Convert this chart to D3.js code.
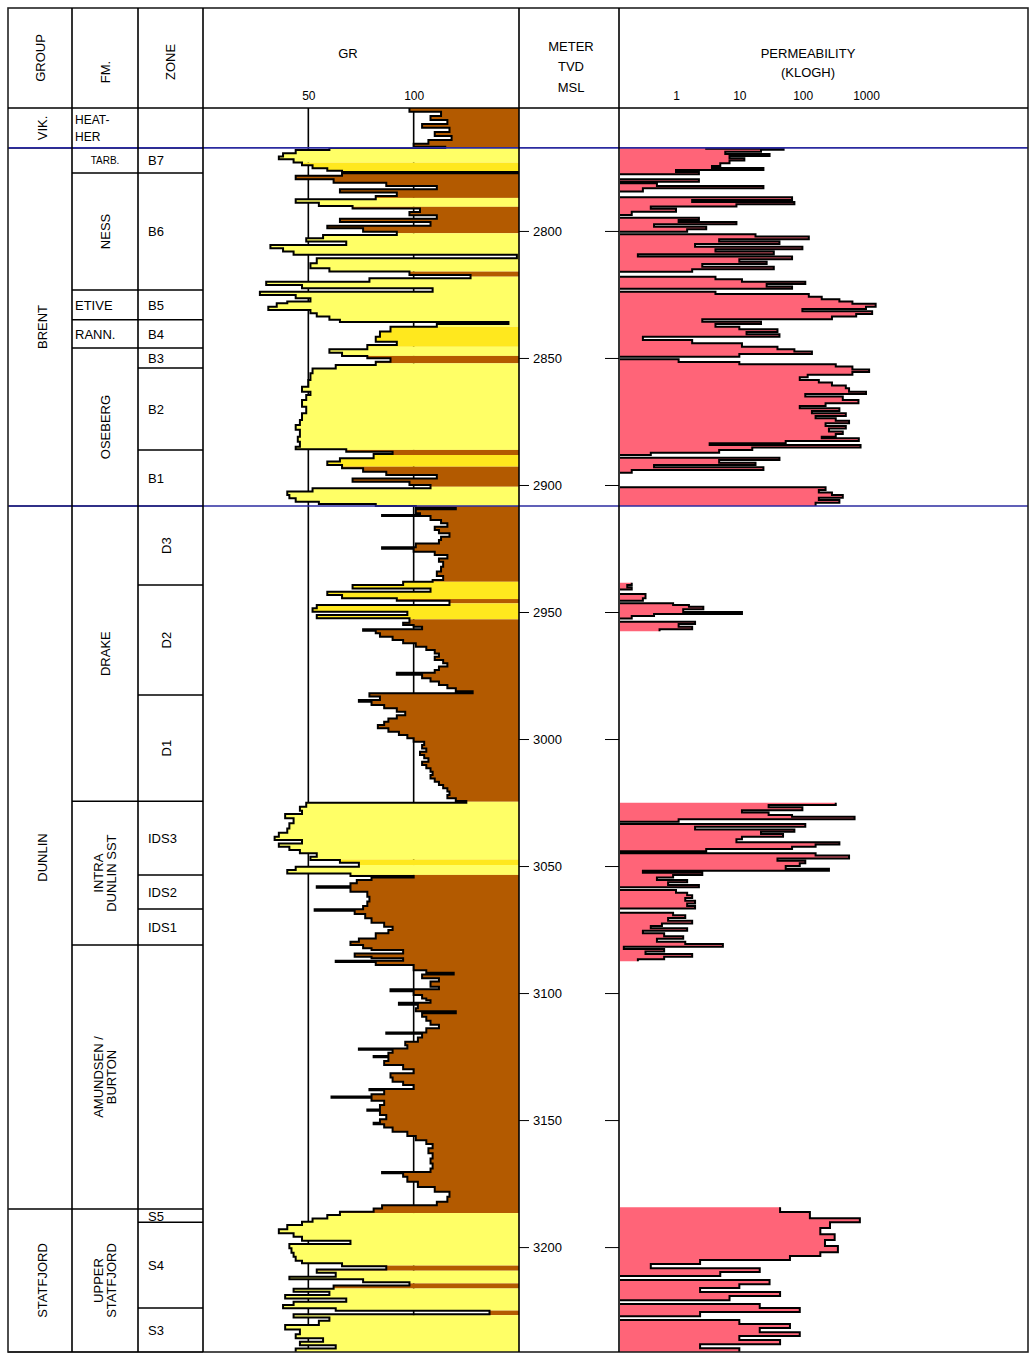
<!DOCTYPE html>
<html><head><meta charset="utf-8">
<script src="https://cdn.jsdelivr.net/npm/d3@7"></script>
<style>
body{margin:0;background:#fff;}
text{font-family:"Liberation Sans",Arial,sans-serif;font-size:12px;fill:#000;}
</style></head><body>
<svg id="chart" width="1035" height="1358"></svg>
<script>
// ---------------- DATA ----------------
const depthTicks = [2800, 2850, 2900, 2950, 3000, 3050, 3100, 3150, 3200];
const grTicks = [50, 100];
const permTicks = [1, 10, 100, 1000];

const groupNames = ["VIK.", "BRENT", "DUNLIN", "STATFJORD"];
const groupTops  = [2751.6, 2767.3, 2908.3, 3185.0];
const groupBases = [2767.3, 2908.3, 3185.0, 3241.3];

const fmNames = ["HEAT-|HER", "TARB.", "NESS", "ETIVE", "RANN.", "OSEBERG", "DRAKE", "INTRA|DUNLIN SST", "AMUNDSEN /|BURTON", "UPPER|STATFJORD"];
const fmTops  = [2751.6, 2767.3, 2777.2, 2823.2, 2835.0, 2846.1, 2908.3, 3024.5, 3081.1, 3185.0];
const fmBases = [2767.3, 2777.2, 2823.2, 2835.0, 2846.1, 2908.3, 3024.5, 3081.1, 3185.0, 3241.3];

const zoneNames = ["", "B7", "B6", "B5", "B4", "B3", "B2", "B1", "D3", "D2", "D1", "IDS3", "IDS2", "IDS1", "", "S5", "S4", "S3"];
const zoneTops  = [2751.6, 2767.3, 2777.2, 2823.2, 2835.0, 2846.1, 2853.9, 2886.2, 2908.3, 2939.4, 2982.7, 3024.5, 3053.5, 3066.9, 3081.1, 3185.0, 3190.2, 3224.0];
const zoneBases = [2767.3, 2777.2, 2823.2, 2835.0, 2846.1, 2853.9, 2886.2, 2908.3, 2939.4, 2982.7, 3024.5, 3053.5, 3066.9, 3081.1, 3185.0, 3190.2, 3224.0, 3241.3];

const litTops  = [2751.6, 2767.3, 2773.1, 2776.5, 2787.0, 2790.5, 2800.9, 2816.0, 2818.0, 2837.7, 2845.6, 2849.2, 2852.1, 2886.2, 2888.2, 2892.8, 2900.7, 2908.3, 2938.1, 2944.9, 2946.6, 2952.9, 3024.7, 3047.4, 3049.6, 3053.5, 3186.6, 3207.3, 3209.3, 3214.3, 3216.3, 3225.0, 3226.8];
const litBases = [2767.3, 2773.1, 2776.5, 2787.0, 2790.5, 2800.9, 2816.0, 2818.0, 2837.7, 2845.6, 2849.2, 2852.1, 2886.2, 2888.2, 2892.8, 2900.7, 2908.3, 2938.1, 2944.9, 2946.6, 2952.9, 3024.7, 3047.4, 3049.6, 3053.5, 3186.6, 3207.3, 3209.3, 3214.3, 3216.3, 3225.0, 3226.8, 3241.3];
const litTypes = ["shale","sand","shalysand","shale","sand","shale","sand","shale","sand","shalysand","sand","shale","sand","shale","shalysand","shale","sand","shale","shalysand","shale","shalysand","shale","sand","shalysand","sand","shale","sand","shale","sand","shale","sand","shale","sand"];

// GR samples [depth m TVD MSL, GR API]
const grSamples = [
[2751.6,98],[2753.1,113],[2754.7,108],[2756.3,116],[2757.9,104],[2759.4,117],[2761.0,110],[2762.6,118],[2764.2,107],[2765.7,100],[2766.9,115],
[2767.3,60],[2768.1,44],[2769.4,38],[2770.7,36],[2771.8,43],[2773.1,47],[2774.1,52],[2775.3,59],[2776.3,66],[2776.8,150],[2777.3,66],[2778.3,44],[2779.6,62],[2781.0,87],[2782.3,111],[2783.6,65],[2784.9,92],[2786.2,82],[2787.5,44],[2788.9,55],[2790.2,71],[2791.2,103],[2792.5,98],[2793.8,111],[2795.2,65],[2796.5,108],[2798.0,59],[2798.9,76],[2800.3,92],[2801.6,57],[2802.9,49],[2804.2,68],[2805.5,32],[2806.8,38],[2808.1,43],[2809.4,149],[2810.7,54],[2812.7,51],[2814.7,60],[2816.0,98],[2817.3,127],[2818.6,79],[2820.0,30],[2821.3,47],[2822.6,109],[2823.9,27],[2825.2,44],[2826.5,51],[2827.8,40],[2828.5,35],[2829.8,31],[2831.1,51],[2832.4,54],[2833.7,60],[2835.0,65],[2835.8,145],[2836.6,111],[2837.7,89],[2839.6,84],[2841.6,82],[2843.6,92],[2844.9,78],[2846.6,60],[2847.9,66],[2849.2,78],[2850.1,89],[2851.5,82],[2852.8,63],[2854.1,52],[2856.0,51],[2858.7,50],[2861.3,47],[2863.3,51],[2864.6,49],[2866.5,47],[2869.2,49],[2871.8,47],[2874.4,46],[2876.4,44],[2878.3,46],[2881.0,45],[2883.0,46],[2884.9,44],[2885.9,68],[2886.9,90],[2887.8,81],[2889.5,65],[2890.8,59],[2892.1,66],[2893.4,76],[2894.8,87],[2896.1,111],[2897.4,71],[2898.7,98],[2900.0,108],[2901.3,52],[2902.6,40],[2903.9,41],[2905.2,44],[2906.6,55],[2907.5,82],
[2908.3,101],[2909.1,120],[2909.6,101],[2911.1,103],[2911.8,85],[2912.2,108],[2913.8,113],[2915.1,116],[2916.4,110],[2917.7,112],[2919.0,117],[2920.4,113],[2921.7,112],[2923.0,101],[2924.5,85],[2925.1,100],[2926.3,110],[2927.6,116],[2928.9,112],[2930.2,114],[2932.2,113],[2934.1,111],[2935.8,114],[2937.4,109],
[2938.1,95],[2939.4,71],[2940.7,108],[2942.0,59],[2943.3,66],[2944.6,92],[2945.6,117],[2947.2,54],[2948.5,52],[2949.9,97],[2951.2,54],[2952.5,98],
[2954.2,95],[2955.1,100],[2955.8,104],[2956.8,76],[2957.4,82],[2958.4,84],[2959.7,90],[2961.0,95],[2962.3,101],[2963.7,106],[2965.0,110],[2966.3,112],[2967.6,110],[2968.9,114],[2970.2,116],[2971.5,112],[2972.8,110],[2973.9,92],[2974.7,104],[2976.1,108],[2977.4,112],[2978.7,116],[2980.0,120],[2981.2,128],[2982.0,79],[2983.3,84],[2984.6,74],[2985.3,80],[2986.6,86],[2987.9,92],[2989.3,96],[2990.6,92],[2991.9,88],[2993.2,86],[2994.5,83],[2995.8,88],[2997.1,93],[2998.4,97],[2999.7,100],[3001.1,105],[3002.4,104],[3003.7,106],[3005.0,103],[3006.3,105],[3007.6,107],[3008.9,104],[3010.2,106],[3011.5,108],[3012.9,109],[3014.2,108],[3015.5,110],[3016.8,112],[3018.1,114],[3019.4,116],[3020.7,117],[3022.0,116],[3023.3,120],[3024.4,125],
[3025.1,49],[3026.7,46],[3028.2,47],[3029.5,39],[3031.2,43],[3033.2,41],[3035.2,40],[3036.9,36],[3038.5,34],[3039.8,47],[3041.1,36],[3042.4,41],[3043.7,46],[3045.0,54],[3046.3,51],[3047.6,65],[3048.7,74],[3050.3,44],[3051.6,40],[3052.9,70],
[3053.9,100],[3054.5,80],[3055.5,73],[3056.8,70],[3058.0,54],[3058.5,70],[3060.1,78],[3062.1,79],[3064.0,78],[3065.7,76],[3067.0,53],[3067.6,72],[3068.9,77],[3070.6,80],[3072.3,86],[3073.9,90],[3075.2,88],[3076.5,82],[3078.5,74],[3079.8,70],[3081.1,76],[3082.4,80],[3083.1,95],[3084.4,72],[3085.7,80],[3086.3,95],[3087.3,63],[3087.8,82],[3089.0,100],[3091.0,106],[3092.0,119],[3092.7,104],[3094.2,112],[3095.5,108],[3097.5,112],[3098.5,89],[3099.3,100],[3100.8,104],[3102.1,106],
[3102.8,108],[3103.8,93],[3104.6,102],[3106.0,101],[3107.2,120],[3108.0,104],[3109.3,106],[3110.9,108],[3112.5,112],[3113.9,106],[3115.5,87],[3116.0,104],[3117.5,102],[3119.2,96],[3120.5,97],[3121.8,74],[3122.3,90],[3123.5,88],[3124.8,81],[3125.3,88],[3126.7,86],[3128.3,95],[3130.0,100],[3131.6,89],[3133.2,90],[3134.9,95],[3136.2,100],[3137.8,79],[3138.3,86],[3139.8,80],[3140.7,61],[3141.2,80],[3142.4,86],[3144.1,84],[3145.8,78],[3146.3,84],[3148.0,87],[3149.7,84],[3151.1,81],[3151.6,86],[3152.9,90],[3154.6,97],[3156.3,101],[3157.9,106],[3159.4,109],[3161.1,107],[3163.1,109],[3165.1,108],[3167.1,109],[3169.1,108],[3170.4,85],[3170.9,95],[3172.3,97],[3174.3,102],[3176.3,110],[3178.2,117],[3180.2,116],[3182.2,111],[3183.5,85],[3184.8,81],
[3186.1,65],[3187.4,59],[3188.7,52],[3190.0,47],[3191.3,40],[3193.0,36],[3194.6,43],[3195.9,47],[3197.5,70],[3198.8,41],[3200.5,42],[3202.2,43],[3203.8,44],[3205.4,47],[3206.4,66],[3207.5,87],[3208.8,54],[3210.1,63],[3211.7,41],[3212.7,76],[3213.8,98],[3215.1,62],[3216.4,43],[3217.6,60],[3218.9,39],[3220.2,68],[3221.5,43],[3222.8,38],[3224.1,63],[3225.1,136],[3226.4,43],[3227.7,60],[3229.0,55],[3230.7,39],[3232.4,46],[3234.3,44],[3235.9,57],[3237.3,46],[3238.6,63],[3239.9,44],[3241.3,44]
];

// Permeability samples [depth, mD (KLOGH)]; null = no data
const permSamples = [
[2767.3,3],[2767.6,50],[2768.0,22],[2768.8,6],[2769.7,30],[2770.5,7],[2771.4,12],[2772.3,7],[2773.3,5],[2774.4,3.7],[2775.2,24],[2776.0,1],[2776.8,2.3],[2777.7,0.1],[2779.6,2.3],[2780.6,0.1],[2781.2,0.5],[2782.3,24],[2783.2,0.3],[2784.5,0.1],[2786.7,68],[2787.8,1.8],[2788.6,74],[2789.5,9],[2790.4,0.4],[2791.3,1],[2792.4,0.2],[2793.7,0.1],[2794.8,2.3],[2795.7,1.1],[2796.5,9],[2797.4,0.45],[2798.3,3],[2799.3,1.5],[2800.3,0.1],[2801.3,18],[2802.2,125],[2803.3,4.8],[2804.2,43],[2805.1,2],[2806.2,99],[2807.2,4.2],[2808.1,35],[2809.2,0.25],[2810.1,68],[2811.1,10],[2812.1,27],[2813.0,2.6],[2814.1,35],[2815.1,1.8],[2816.1,0.1],[2818.0,4.2],[2819.0,11],[2820.0,110],[2820.9,27],[2821.9,68],[2822.8,0.1],[2823.9,4.2],[2824.8,125],[2825.9,200],[2826.9,380],[2827.8,610],[2828.7,1420],[2829.8,1000],[2830.7,99],[2831.6,1250],[2832.7,700],[2833.7,290],[2834.8,2.6],[2835.7,22],[2836.6,4.2],[2837.7,10],[2838.7,40],[2839.8,13],[2840.7,43],[2841.6,0.3],[2842.9,1.8],[2844.2,11],[2845.6,40],[2846.6,74],[2847.5,140],[2848.4,10],[2849.5,0.1],[2850.5,1.1],[2851.6,10],[2852.5,333],[2853.4,610],[2854.5,1120],[2855.5,610],[2856.6,120],[2857.6,90],[2858.7,180],[2859.7,290],[2860.8,480],[2861.9,540],[2863.3,1000],[2864.2,110],[2865.2,430],[2866.5,760],[2867.8,230],[2868.9,90],[2869.8,380],[2870.9,140],[2871.8,480],[2872.8,160],[2873.7,333],[2874.7,540],[2875.7,230],[2876.8,480],[2877.8,260],[2878.9,430],[2879.9,333],[2881.0,200],[2881.6,770],[2882.7,54],[2883.6,3.4],[2884.3,820],[2885.2,16],[2886.2,4.8],[2887.3,0.4],[2888.2,0.1],[2889.3,43],[2890.2,4.8],[2891.2,18],[2892.1,0.45],[2893.0,24],[2894.1,0.2],[2895.2,0.1],[2900.9,230],[2902.0,180],[2903.0,290],[2903.9,430],[2905.0,180],[2905.9,380],[2907.0,160],[2908.3,160],
[2908.4,null],
[2938.5,0.2],[2939.4,0.17],[2940.3,0.2],[2941.1,0.1],[2942.9,0.33],[2944.6,0.3],[2945.6,0.1],[2946.6,0.9],[2947.2,1.6],[2947.9,2.7],[2948.9,1.3],[2950.0,11],[2950.8,0.45],[2951.6,0.2],[2952.6,0.1],[2953.8,2],[2954.7,1.1],[2955.8,1.8],[2956.8,0.55],[2957.6,0.55],
[2957.7,null],
[3025.1,333],[3026.0,29],[3026.9,99],[3028.0,11],[3028.9,29],[3029.9,68],[3030.6,660],[3031.6,1.1],[3032.6,0.1],[3033.5,110],[3034.5,2],[3035.6,74],[3036.5,22],[3037.4,49],[3038.5,11],[3039.5,9],[3040.6,380],[3041.5,160],[3042.4,68],[3043.3,3],[3044.2,0.1],[3045.0,160],[3045.9,540],[3047.0,40],[3047.9,110],[3048.9,90],[3050.0,54],[3051.1,260],[3051.9,0.3],[3052.6,2.6],[3053.5,0.9],[3054.5,0.5],[3055.5,1.5],[3056.4,0.75],[3057.5,2.3],[3058.4,0.1],[3059.4,1],[3060.5,1.5],[3061.5,1.8],[3062.6,1.4],[3063.7,2],[3064.7,1.5],[3065.7,2],[3066.7,0.1],[3068.4,0.9],[3069.4,1.4],[3070.5,0.75],[3071.5,1.8],[3072.6,0.6],[3073.6,0.4],[3074.5,1.5],[3075.5,0.3],[3076.5,0.65],[3077.6,1.3],[3078.6,0.5],[3079.8,1.4],[3080.7,5.5],[3081.8,0.15],[3082.7,0.65],[3083.6,0.33],[3084.6,1.8],[3085.7,0.65],[3086.7,0.25],[3087.5,0.25],
[3087.6,null],
[3184.3,44],[3186.2,130],[3188.6,800],[3190.2,270],[3192.5,190],[3194.9,320],[3197.2,225],[3199.6,360],[3202.0,190],[3203.5,63],[3205.1,2.4],[3206.7,0.4],[3208.3,21],[3209.8,5],[3211.4,0.1],[3213.0,30],[3214.6,10],[3216.1,2.4],[3217.7,44],[3219.3,7],[3220.9,0.1],[3222.4,21],[3224.0,90],[3225.6,2.4],[3227.2,0.1],[3228.7,10],[3230.3,63],[3231.9,21],[3233.5,90],[3235.0,10],[3236.6,44],[3238.2,2.4],[3239.8,10],[3241.3,10]
];

// ---------------- LAYOUT / STYLE ----------------
const svg = d3.select("#chart");
const frameL = 8, frameR = 1028, frameT = 8, frameB = 1352, headB = 108;
const colGroup = [8, 72], colFm = [72, 138], colZone = [138, 203], colGr = [203, 519], colDepth = [519, 619], colPerm = [619, 1028];
const litColor = {shale: "#B35A00", sand: "#FFFF66", shalysand: "#FFE81E"};
const rotatedFm = new Set(["NESS", "OSEBERG", "DRAKE", "INTRA|DUNLIN SST", "AMUNDSEN /|BURTON", "UPPER|STATFJORD"]);
const rotatedZone = new Set(["D3", "D2", "D1"]);

const y = d3.scaleLinear().domain([2751.6, 3241.3]).range([headB, frameB]);
const xGr = d3.scaleLinear().domain([0, 150]).range(colGr);
const xPerm = d3.scaleLog().domain([1, 1000]).range([676, 866]);

const defs = svg.append("defs");
defs.append("clipPath").attr("id", "grClip").append("rect")
  .attr("x", colGr[0]).attr("y", headB).attr("width", colGr[1] - colGr[0]).attr("height", frameB - headB);
defs.append("clipPath").attr("id", "permClip").append("rect")
  .attr("x", colPerm[0] + 1).attr("y", headB).attr("width", colPerm[1] - colPerm[0] - 1).attr("height", frameB - headB);

// GR gridlines (beneath fill)
svg.append("g").selectAll("line").data(grTicks).join("line")
  .attr("x1", d => xGr(d)).attr("x2", d => xGr(d)).attr("y1", headB).attr("y2", frameB)
  .attr("stroke", "#000").attr("stroke-width", 1.6);

// GR fill: area from curve to right edge used as clip for lithology bands
const grArea = d3.area().curve(d3.curveStepBefore)
  .y(d => y(d[0])).x1(d => xGr(d[1])).x0(colGr[1]);
defs.append("clipPath").attr("id", "grFillClip").append("path").attr("d", grArea(grSamples));
const litData = litTops.map((t, i) => ({top: t, base: litBases[i], type: litTypes[i]}));
svg.append("g").attr("clip-path", "url(#grFillClip)").selectAll("rect").data(litData).join("rect")
  .attr("x", colGr[0]).attr("width", colGr[1] - colGr[0])
  .attr("y", d => y(d.top)).attr("height", d => y(d.base) - y(d.top))
  .attr("fill", d => litColor[d.type]);

// GR curve
const grLine = d3.line().curve(d3.curveStepBefore).x(d => xGr(d[1])).y(d => y(d[0]));
svg.append("path").attr("d", grLine(grSamples)).attr("clip-path", "url(#grClip)")
  .attr("fill", "none").attr("stroke", "#000").attr("stroke-width", 2);

// Permeability fill and curve
const permArea = d3.area().curve(d3.curveStepBefore).defined(d => d[1] != null)
  .y(d => y(d[0])).x0(colPerm[0]).x1(d => xPerm(d[1]));
const permLine = d3.line().curve(d3.curveStepBefore).defined(d => d[1] != null)
  .x(d => xPerm(d[1])).y(d => y(d[0]));
const pg = svg.append("g").attr("clip-path", "url(#permClip)");
pg.append("path").attr("d", permArea(permSamples)).attr("fill", "#FF6478");
pg.append("path").attr("d", permLine(permSamples)).attr("fill", "none").attr("stroke", "#000").attr("stroke-width", 2);

// Depth axes
const dAx = svg.append("g").attr("transform", `translate(${colDepth[0]},0)`)
  .call(d3.axisRight(y).tickValues(depthTicks).tickSize(10).tickPadding(4).tickFormat(d3.format("d")));
dAx.select(".domain").remove();
dAx.selectAll("text").style("font-size", "13px").attr("dy", "0.35em");
const dAx2 = svg.append("g").attr("transform", `translate(${colDepth[1]},0)`)
  .call(d3.axisLeft(y).tickValues(depthTicks).tickSize(14).tickFormat(""));
dAx2.select(".domain").remove();

// Header axes
const gAx = svg.append("g").attr("transform", `translate(0,${headB - 6})`)
  .call(d3.axisTop(xGr).tickValues(grTicks).tickSize(0).tickPadding(2));
gAx.select(".domain").remove();
gAx.selectAll("text").style("font-size", "12px");
const pAx = svg.append("g").attr("transform", `translate(0,${headB - 6})`)
  .call(d3.axisTop(xPerm).tickValues(permTicks).tickSize(0).tickPadding(2).tickFormat(d3.format("d")));
pAx.select(".domain").remove();
pAx.selectAll("text").style("font-size", "12px");

// Column cell separators
function hline(x1, x2, d, color, w) {
  svg.append("line").attr("x1", x1).attr("x2", x2).attr("y1", y(d)).attr("y2", y(d))
    .attr("stroke", color).attr("stroke-width", w);
}
groupBases.forEach(d => hline(colGroup[0], colGroup[1], d, "#000", 1.5));
fmBases.forEach(d => hline(colFm[0], colFm[1], d, "#000", 1.5));
zoneBases.forEach(d => hline(colZone[0], colZone[1], d, "#000", 1.5));

// Blue group markers across the whole sheet (Brent top / base)
[groupTops[1], groupBases[1]].forEach(d => hline(frameL, frameR, d, "#2B2BA0", 1.6));

// Frame and column lines
svg.append("rect").attr("x", frameL).attr("y", frameT).attr("width", frameR - frameL).attr("height", frameB - frameT)
  .attr("fill", "none").attr("stroke", "#222").attr("stroke-width", 1.6);
svg.append("line").attr("x1", frameL).attr("x2", frameR).attr("y1", headB).attr("y2", headB).attr("stroke", "#000").attr("stroke-width", 1.6);
[colGroup[1], colFm[1], colZone[1], colGr[1], colDepth[1]].forEach(x =>
  svg.append("line").attr("x1", x).attr("x2", x).attr("y1", frameT).attr("y2", frameB).attr("stroke", "#000").attr("stroke-width", 1.6));

// Text helpers
function rotText(cx, cy, lines, size) {
  const t = svg.append("text").attr("transform", `translate(${cx},${cy}) rotate(-90)`)
    .attr("text-anchor", "middle").style("font-size", size + "px");
  const n = lines.length;
  lines.forEach((s, i) => t.append("tspan").attr("x", 0)
    .attr("y", (i - (n - 1) / 2) * size * 1.0 + size * 0.36).text(s));
}
function hText(x, yy, s, size, anchor) {
  svg.append("text").attr("x", x).attr("y", yy).attr("text-anchor", anchor || "middle")
    .style("font-size", size + "px").text(s);
}

// Header
rotText(40, 58, ["GROUP"], 13);
rotText(105, 72, ["FM."], 13);
rotText(170, 62, ["ZONE"], 13);
hText(348, 58, "GR", 13);
hText(571, 51, "METER", 13); hText(571, 71, "TVD", 13); hText(571, 92, "MSL", 13);
hText(808, 58, "PERMEABILITY", 13); hText(808, 77, "(KLOGH)", 13);

// Groups
groupNames.forEach((g, i) => rotText((colGroup[0] + colGroup[1]) / 2 + 2, y((groupTops[i] + groupBases[i]) / 2), [g], 13));

// Formations
fmNames.forEach((f, i) => {
  const cy = y((fmTops[i] + fmBases[i]) / 2);
  const lines = f.split("|");
  if (rotatedFm.has(f)) {
    rotText((colFm[0] + colFm[1]) / 2, cy, lines, 13);
  } else if (lines.length > 1) {
    lines.forEach((s, k) => hText(colFm[0] + 3, cy + (k - 0.5) * 17 + 5, s, 12, "start"));
  } else if (f === "TARB.") {
    hText((colFm[0] + colFm[1]) / 2, cy + 4, f, 10);
  } else {
    hText(colFm[0] + 3, cy + 5, f, 13, "start");
  }
});

// Zones
zoneNames.forEach((z, i) => {
  if (!z) return;
  const cy = y((zoneTops[i] + zoneBases[i]) / 2);
  if (rotatedZone.has(z)) rotText((colZone[0] + colZone[1]) / 2 - 4, cy, [z], 13);
  else hText(colZone[0] + 10, cy + 5, z, 13, "start");
});
</script>
</body></html>
